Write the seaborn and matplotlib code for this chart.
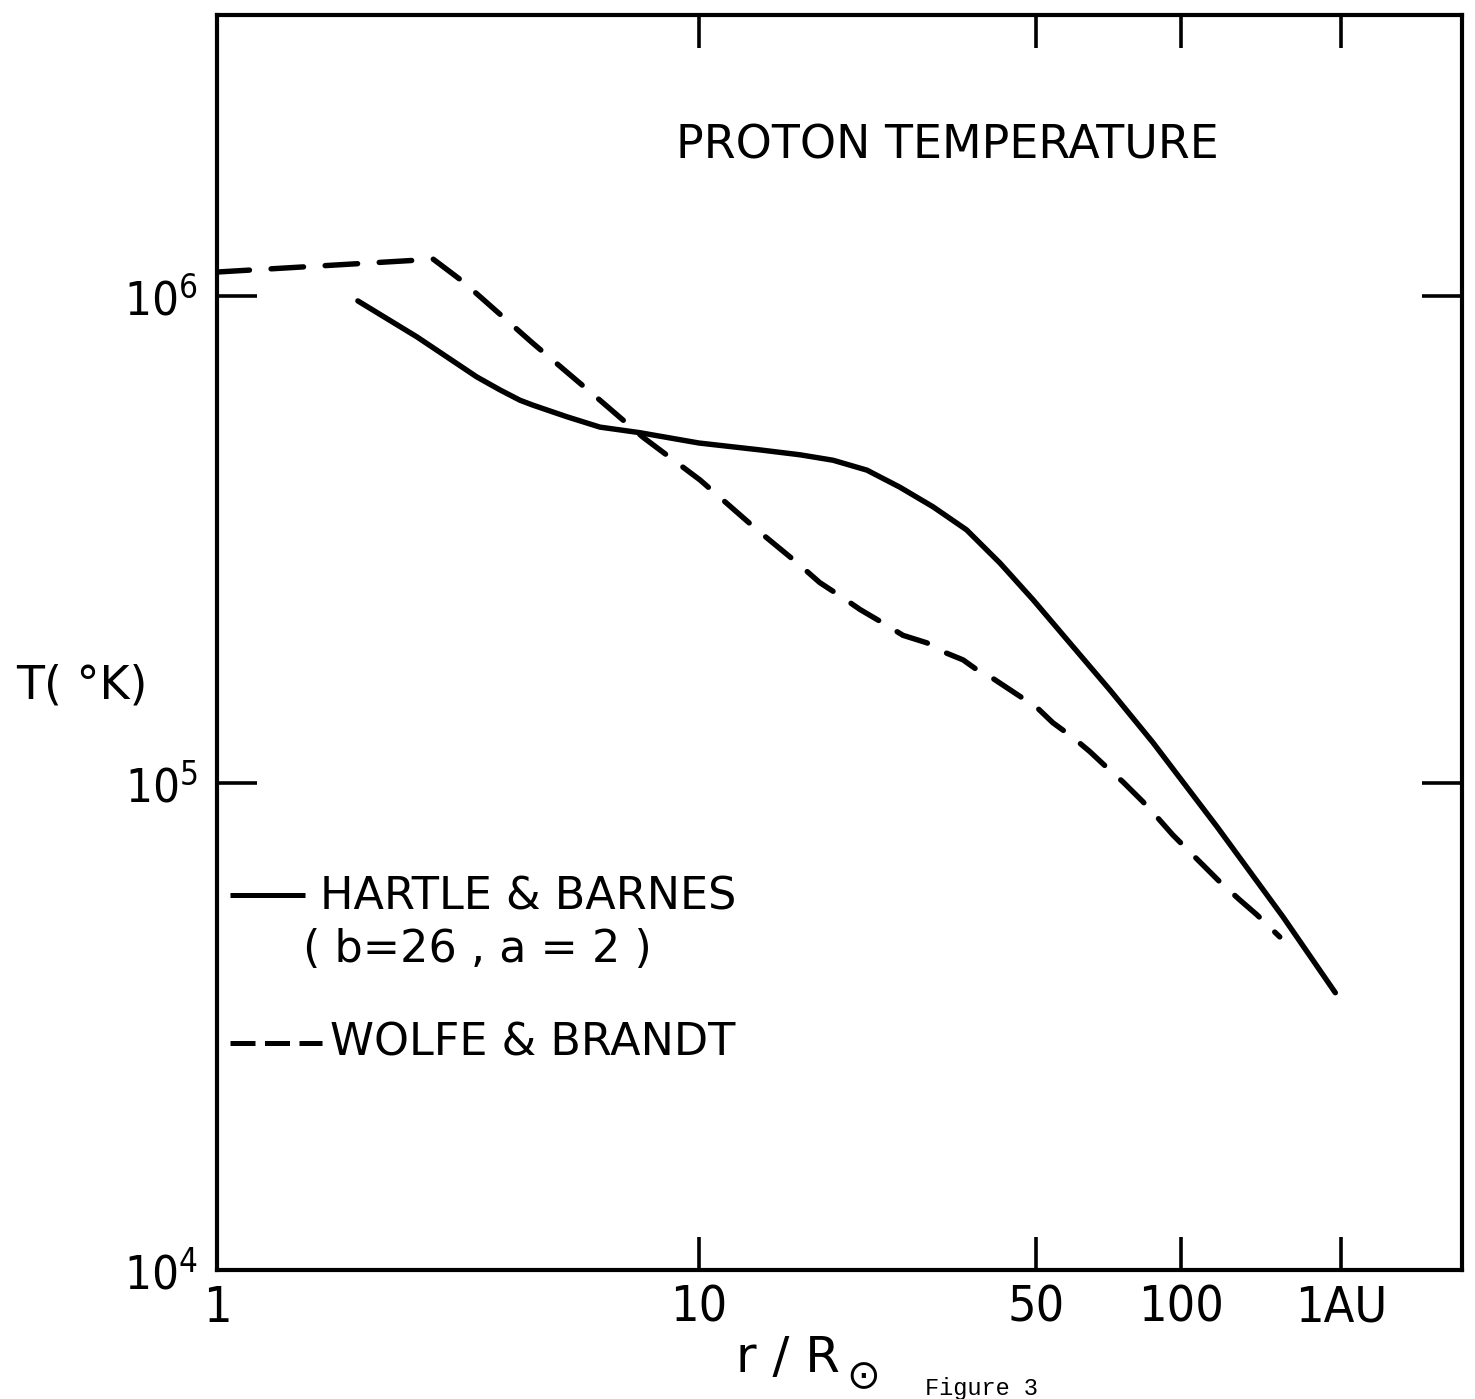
import matplotlib
matplotlib.use("Agg")
import matplotlib.pyplot as plt
from matplotlib.lines import Line2D
import numpy as np
import pandas as pd
import seaborn as sns

# Radial distance r / R_sun and proton temperature T (K)
hb_r = [1.96, 2.60, 3.46, 3.87, 4.25, 4.52, 5.32, 6.23, 7.54, 10.0, 13.39,
        16.2, 18.97, 22.3, 26.1, 30.6, 35.9, 42.1, 49.3, 58.0, 71.3, 87.5,
        118.8, 162.8, 209.0]
hb_T = [9.77e5, 8.24e5, 6.82e5, 6.41e5, 6.11e5, 5.97e5, 5.65e5, 5.38e5,
        5.24e5, 4.99e5, 4.83e5, 4.72e5, 4.60e5, 4.39e5, 4.05e5, 3.69e5,
        3.31e5, 2.83e5, 2.38e5, 1.97e5, 1.55e5, 1.21e5, 8.13e4, 5.31e4,
        3.71e4]

wb_r = [1.0, 2.81, 3.24, 4.52, 6.23, 7.65, 10.05, 13.2, 16.0, 17.8, 19.9,
        21.6, 24.1, 26.5, 29.7, 32.1, 35.3, 38.3, 40.7, 45.7, 50.2, 54.2,
        59.7, 64.7, 70.6, 75.8, 83.4, 89.2, 96.2, 103.4, 111.0, 120.5,
        132.5, 143.8, 160.3]
wb_T = [1.12e6, 1.19e6, 1.07e6, 8.0e5, 6.11e5, 5.13e5, 4.19e5, 3.31e5,
        2.83e5, 2.58e5, 2.40e5, 2.27e5, 2.13e5, 2.01e5, 1.94e5, 1.86e5,
        1.79e5, 1.69e5, 1.64e5, 1.52e5, 1.43e5, 1.33e5, 1.24e5, 1.16e5,
        1.07e5, 1.005e5, 9.15e4, 8.51e4, 7.82e4, 7.28e4, 6.79e4, 6.26e4,
        5.75e4, 5.36e4, 4.83e4]

model_names = ["HARTLE & BARNES", "WOLFE & BRANDT"]

x_ticks = [1, 10, 50, 100, 215]
x_tick_labels = ["1", "10", "50", "100", "1AU"]
y_ticks = [1e4, 1e5, 1e6]
y_tick_labels = [r"$\mathregular{10^4}$", r"$\mathregular{10^5}$", r"$\mathregular{10^6}$"]

df = pd.concat([
    pd.DataFrame({"r": hb_r, "T": hb_T, "model": model_names[0]}),
    pd.DataFrame({"r": wb_r, "T": wb_T, "model": model_names[1]}),
], ignore_index=True)

sns.set_style("white")
plt.rcParams["font.family"] = ["DejaVu Sans"]
plt.rcParams["mathtext.default"] = "regular"
plt.rcParams["text.color"] = "black"

W, H = 1475, 1399
fig = plt.figure(figsize=(W / 100, H / 100), dpi=100)
fig.patch.set_facecolor("white")

# axes box in pixels: left 217, right 1462, top 15, bottom 1270
L, R, T_, B = 217, 1462, 15, 1270
ax = fig.add_axes([L / W, 1 - B / H, (R - L) / W, (B - T_) / H])

sns.lineplot(data=df, x="r", y="T", style="model",
             dashes={model_names[0]: "", model_names[1]: (6, 4)},
             color="black", linewidth=3.9, sort=False, estimator=None,
             legend=False, ax=ax,
             dash_capstyle="round", solid_capstyle="round",
             solid_joinstyle="round", dash_joinstyle="round")

ax.set_xscale("log")
ax.set_yscale("log")
ax.set_xlim(1, 10 ** ((R - L) / 482))
ax.set_ylim(1e4, 10 ** (4 + (B - T_) / 487))

ax.xaxis.set_minor_locator(matplotlib.ticker.NullLocator())
ax.yaxis.set_minor_locator(matplotlib.ticker.NullLocator())
ax.set_xticks(x_ticks)
ax.set_xticklabels(x_tick_labels)
ax.set_yticks(y_ticks)
ax.set_yticklabels(y_tick_labels)

for s in ax.spines.values():
    s.set_visible(True)
    s.set_color("black")
    s.set_linewidth(3.0)

ax.tick_params(axis="x", which="major", direction="in", length=24, width=2.6,
               top=True, bottom=True, pad=10, labelsize=36, color="black",
               labelcolor="black")
ax.tick_params(axis="y", which="major", direction="in", length=29, width=2.6,
               left=True, right=True, pad=14, labelsize=34, color="black",
               labelcolor="black")
for lab in ax.get_xticklabels() + ax.get_yticklabels():
    lab.set_fontstretch("condensed")

ax.set_xlabel("")
ax.set_ylabel("")

# title inside the frame
fig.text(947 / W, 1 - 146 / H, "PROTON TEMPERATURE", ha="center", va="center",
         fontsize=33, color="black")

# axis labels
fig.text(82 / W, 1 - 686 / H, "T( °K)", ha="center", va="center",
         fontsize=33, color="black")
fig.text(840 / W, 1 - 1358 / H, "r / R", ha="right", va="center",
         fontsize=36, color="black")
fig.text(846 / W, 1 - 1377 / H, "\u2299", ha="left", va="center",
         fontsize=29, color="black")
fig.text(925 / W, 1 - 1377 / H, "Figure 3", ha="left", va="top",
         fontsize=17, family="Liberation Mono", color="black")

# key
def fx(px):
    return px / W

def fy(py):
    return 1 - py / H

fig.add_artist(Line2D([fx(230), fx(305)], [fy(895), fy(895)], color="black",
                      linewidth=3.6, solid_capstyle="butt"))
fig.text(fx(320), fy(897), model_names[0], ha="left", va="center",
         fontsize=32, color="black")
fig.text(fx(303), fy(950), "( b=26 , a = 2 )", ha="left", va="center",
         fontsize=32, color="black")
fig.add_artist(Line2D([fx(230), fx(322)], [fy(1043), fy(1043)], color="black",
                      linewidth=3.6, dashes=(5.0, 1.9), dash_capstyle="butt"))
fig.text(fx(330), fy(1043), model_names[1], ha="left", va="center",
         fontsize=32, color="black")

fig.savefig("out.png", dpi=100, facecolor="white")
